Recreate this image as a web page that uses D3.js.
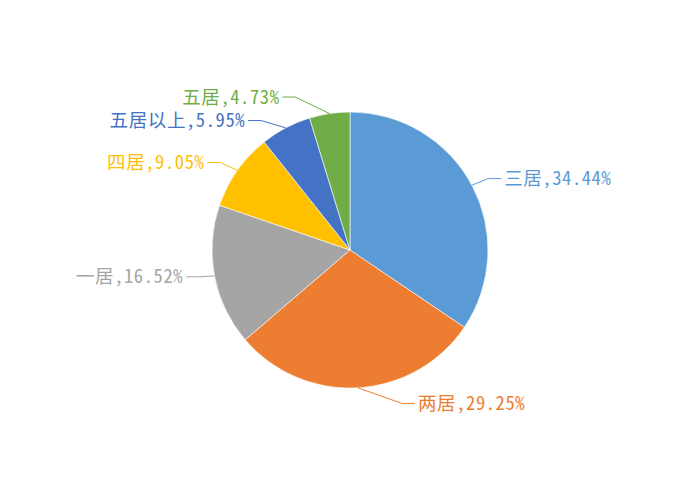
<!DOCTYPE html>
<html>
<head>
<meta charset="utf-8">
<script src="https://cdn.jsdelivr.net/npm/d3@7"></script>
<style>
  html, body { margin: 0; padding: 0; background: #fff; }
  svg text { font-family: "Noto Sans Mono CJK SC", "Noto Sans CJK SC", "DejaVu Sans Mono", monospace; }
</style>
</head>
<body>
<svg id="chart" width="700" height="500"></svg>
<script>
// ---------- data ----------
const categories = ["三居", "两居", "一居", "四居", "五居以上", "五居"];
const shares = [34.44, 29.25, 16.52, 9.05, 5.95, 4.73];
const colors = ["#5B9BD5", "#ED7D31", "#A5A5A5", "#FFC000", "#4472C4", "#70AD47"];

// ---------- layout ----------
const width = 700, height = 500;
const cx = 350, cy = 250, radius = 138;

// small manual shifts for the label elbows (like dragged labels in a spreadsheet)
const labelNudge = [[-2, 3], [43, -5], [5, -3], [0, 4], [-15, 11], [-31, 4]];

const svg = d3.select("#chart");
const g = svg.append("g").attr("transform", `translate(${cx},${cy})`);

const pie = d3.pie().sort(null).value(d => d.value);
const arcs = pie(categories.map((c, i) => ({ name: c, value: shares[i], color: colors[i], i })));

const arc = d3.arc().innerRadius(0).outerRadius(radius);
const edgeArc = d3.arc().innerRadius(radius).outerRadius(radius);
const elbowArc = d3.arc().innerRadius(radius * 1.15).outerRadius(radius * 1.15);

g.selectAll("path.slice")
  .data(arcs)
  .enter()
  .append("path")
  .attr("class", "slice")
  .attr("d", arc)
  .attr("fill", d => d.data.color)
  .attr("stroke", "#fff")
  .attr("stroke-width", 0.6);

// leader lines + labels
const labels = g.selectAll("g.label")
  .data(arcs)
  .enter()
  .append("g")
  .attr("class", "label");

labels.each(function (d) {
  const mid = (d.startAngle + d.endAngle) / 2;
  const right = Math.sin(mid) > 0;
  const p0 = edgeArc.centroid(d);
  const e = elbowArc.centroid(d);
  const n = labelNudge[d.data.i];
  const p1 = [e[0] + n[0], e[1] + n[1]];
  const p2 = [p1[0] + (right ? 13 : -13), p1[1]];

  const sel = d3.select(this);
  sel.append("polyline")
    .attr("points", [p0, p1, p2].map(p => p.join(",")).join(" "))
    .attr("fill", "none")
    .attr("stroke", d.data.color)
    .attr("stroke-width", 1);

  sel.append("text")
    .attr("x", p2[0] + (right ? 3 : -3))
    .attr("y", p2[1])
    .attr("dy", "0.35em")
    .attr("text-anchor", right ? "start" : "end")
    .attr("font-size", "18.5px")
    .attr("letter-spacing", "0.6px")
    .attr("fill", d.data.color)
    .text(`${d.data.name},${d.data.value.toFixed(2)}%`);
});
</script>
</body>
</html>
